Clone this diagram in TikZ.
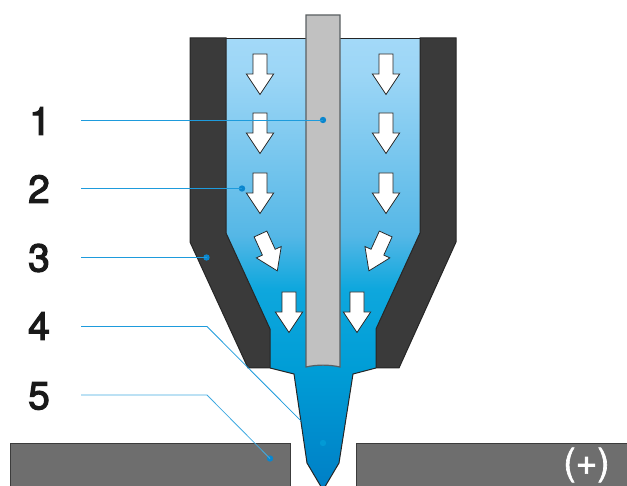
\documentclass[tikz,border=0pt]{standalone}
\usepackage{fontspec}
\setmainfont{TeX Gyre Heros}
\newfontfamily\numfont[RawFeature={embolden=3}]{TeX Gyre Heros}
\newfontfamily\signfont[RawFeature={embolden=1.8}]{TeX Gyre Heros}
\usetikzlibrary{calc}
\definecolor{bodyc}{HTML}{3A3A3A}
\definecolor{edgec}{HTML}{262626}
\definecolor{elc}{HTML}{C1C1C1}
\definecolor{eledge}{HTML}{5A5F62}
\definecolor{platec}{HTML}{6E6E6E}
\definecolor{leadc}{HTML}{1E9BDC}
\definecolor{dotc}{HTML}{0A86CE}
\definecolor{ga}{HTML}{A3D9F8}
\definecolor{gb}{HTML}{9CD6F6}
\definecolor{gc}{HTML}{55B7E6}
\definecolor{gd}{HTML}{0EA7DD}
\definecolor{ge}{HTML}{009DD6}
\definecolor{gf}{HTML}{0080C6}
\pgfdeclareverticalshading{flow}{100bp}{
 color(0bp)=(gf);
 color(25bp)=(gf);
 color(38bp)=(ge);
 color(47bp)=(gd);
 color(53bp)=(gc);
 color(71bp)=(gb);
 color(75bp)=(ga);
 color(100bp)=(ga)}
\tikzset{
 x=1pt,y=-1pt,
 nozzle/.style={fill=bodyc,draw=edgec,line width=1pt,line join=miter},
 plate/.style={fill=platec,draw=edgec!70!platec,line width=1pt},
 rod/.style={fill=elc,draw=eledge,line width=1.2pt},
 flowarrow/.style={fill=white,draw=edgec,line width=0.75pt,line join=miter},
 leader/.style={draw=leadc,line width=0.8pt},
 pin/.style={circle,fill=dotc,inner sep=0pt,minimum size=6.4pt},
 num/.style={font=\numfont\fontsize{39}{39}\selectfont,text=black!90,inner sep=0pt,anchor=center},
 sign/.style={font=\signfont\fontsize{37}{37}\selectfont,text=white,inner sep=0pt,anchor=center},
}
\newcommand{\flowarr}[3]{% x y(top) rotation: tip direction
 \begin{scope}[shift={(#1,#2)},rotate=#3]
  \path[flowarrow] (-7,0) -- (7,0) -- (7,20) -- (13.7,20) -- (0,40.5) -- (-13.7,20) -- (-7,20) -- cycle;
 \end{scope}}
\begin{document}
\begin{tikzpicture}
\useasboundingbox (0,0) rectangle (627,486);
% plates
\path[plate] (10,486) -- (10,444) -- (290,444) -- (290,486);
\fill[platec] (356.5,444.5) rectangle (627,486);
\draw[edgec!70!platec,line width=1pt] (627,444) -- (356,444) -- (356,486);
% flow body
\begin{scope}
 \clip (226,38.5) -- (420,38.5) -- (420,233) -- (376,329) -- (376,368) -- (353,374) -- (339,463) -- (323,490) -- (307,463) -- (294,374) -- (270,368) -- (270,329) -- (226,233) -- cycle;
 \shade[shading=flow] (220,38) rectangle (426,486);
\end{scope}
\draw[edgec,line width=1pt] (376,368) -- (353,374) -- (339,463) -- (323,490) -- (307,463) -- (294,374) -- (270,368);
% nozzle walls
\path[nozzle] (190,38) -- (226,38) -- (226,233) -- (270,329) -- (270,368) -- (248,368) -- (190,242) -- cycle;
\path[nozzle] (456,38) -- (420,38) -- (420,233) -- (376,329) -- (376,368) -- (399,368) -- (456,242) -- cycle;
\draw[edgec,line width=1pt] (226,38.5) -- (420,38.5);
% electrode
\path[rod] (306,15) -- (340,15) -- (340,367) .. controls (329,364.5) and (317,364.5) .. (306,367) -- cycle;
% arrows
\flowarr{260}{54}{0}
\flowarr{260}{113}{0}
\flowarr{260}{173}{0}
\flowarr{386}{54}{0}
\flowarr{386}{113}{0}
\flowarr{386}{173}{0}
\flowarr{260.5}{234}{24.5}
\flowarr{385.7}{234}{-24.5}
\flowarr{289}{292}{0}
\flowarr{357}{292}{0}
% labels
\node[num] (n1) at (40,121) {1};
\node[num] (n2) at (39,189) {2};
\node[num] (n3) at (39,258) {3};
\node[num] (n4) at (39,326) {4};
\node[num] (n5) at (39,396) {5};
\node[sign] (plus) at (586.5,465) {(+)};
% leaders
\coordinate (s1) at (81,120);
\coordinate (s2) at (81,188.5);
\coordinate (s3) at (81,257.5);
\coordinate (s4) at (81,326.5);
\coordinate (b4) at (207,326.5);
\coordinate (s5) at (81,395);
\coordinate (b5) at (207,395);
\node[pin] (p1) at (323,120) {};
\node[pin] (p2) at (242,188.5) {};
\node[pin] (p3) at (206.5,257.5) {};
\node[pin,fill=dotc!15!ge] (p4) at (323,443) {};
\node[pin] (p5) at (270,458.5) {};
\draw[leader] (s1) -- (p1.center);
\draw[leader] (s2) -- (p2.center);
\draw[leader] (s3) -- (p3.center);
\begin{scope}
 \clip (0,0) rectangle (301,486);
 \draw[leader] (s4) -- (b4) -- (p4.center);
\end{scope}
\draw[leader,leadc!85!white] (s5) -- (b5) -- (p5.center);
\end{tikzpicture}
\end{document}
